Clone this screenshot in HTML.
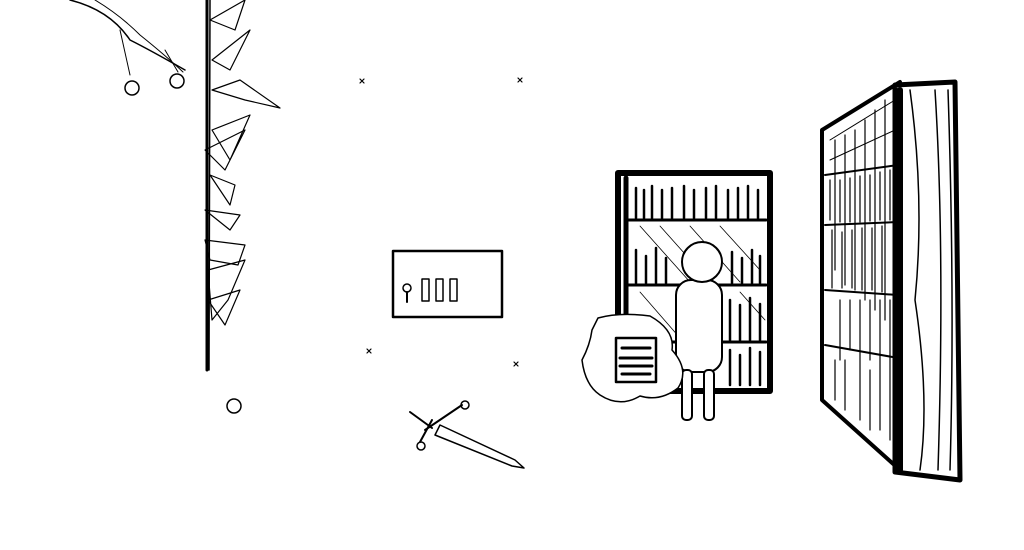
<!DOCTYPE html>
<html><head><meta charset="utf-8"><style>html,body{margin:0;padding:0;background:#fff}svg{display:block}</style></head>
<body>
<svg width="1024" height="550" viewBox="0 0 1024 550" xmlns="http://www.w3.org/2000/svg" fill="none" stroke="#000" stroke-linecap="round" stroke-linejoin="round">
<rect width="1024" height="550" fill="#fff" stroke="none"/>
<!-- branch top-left -->
<path d="M70 0 Q110 10 130 40 Q150 50 185 70" stroke-width="1.5"/>
<path d="M95 0 Q120 15 140 35 Q165 55 183 72" stroke-width="1"/>
<path d="M120 30 L130 75 M165 50 L178 72" stroke-width="1"/>
<circle cx="132" cy="88" r="7" stroke-width="1.5"/>
<circle cx="177" cy="81" r="7" stroke-width="1.5"/>
<!-- vine -->
<path d="M207 0 L207 370" stroke-width="3"/>
<path d="M210 0 L209 370" stroke-width="1.5"/>
<path d="M210 20 L245 0 L235 30 Z M212 60 L250 30 L230 70 Z M212 90 L240 80 L280 108 L245 100 Z M212 130 L250 115 L230 160 Z M205 150 L245 130 L225 170 Z M210 175 L235 185 L230 205 Z M205 210 L240 215 L230 230 Z M205 240 L245 245 L238 265 L210 260 Z M208 270 L245 260 L228 300 L212 320 Z M208 300 L240 290 L225 325 Z" stroke-width="1.2"/>
<circle cx="234" cy="406" r="7" stroke-width="1.5"/>
<!-- x marks -->
<g stroke-width="1.2"><path d="M360 79l4 4m0-4l-4 4M518 78l4 4m0-4l-4 4M367 349l4 4m0-4l-4 4M514 362l4 4m0-4l-4 4"/></g>
<!-- panel -->
<rect x="393" y="251" width="109" height="66" stroke-width="2.5"/>
<circle cx="407" cy="288" r="4" stroke-width="1.5"/><path d="M407 292 L407 302" stroke-width="2"/>
<rect x="422" y="279" width="7" height="22" stroke-width="1.5"/><rect x="436" y="279" width="7" height="22" stroke-width="1.5"/><rect x="450" y="279" width="7" height="22" stroke-width="1.5"/>
<!-- sword -->
<path d="M440 425 L515 460 L524 468 L512 466 L435 435 Z" stroke-width="1.5"/>
<path d="M420 442 L432 420 M425 430 L462 405" stroke-width="2"/>
<path d="M410 412 L432 428" stroke-width="2"/><circle cx="465" cy="405" r="4" stroke-width="1.5"/><circle cx="421" cy="446" r="4" stroke-width="1.5"/>
<!-- bookshelf 1 -->
<rect x="618" y="173" width="152" height="218" stroke-width="6"/>
<path d="M626 178 V388" stroke-width="5"/>
<g stroke-width="3"><path d="M628 220 H766 M628 285 H766 M628 342 H766"/></g>
<g stroke-width="2.5"><path d="M636 188v30M644 190v28M652 186v32M662 190v28M672 188v30M684 186v32M694 190v28M706 188v30M716 186v32M728 190v28M738 188v30M748 186v32M758 190v28M636 250v33M646 256v27M656 248v35M666 258v25M732 252v31M742 258v25M752 250v33M760 256v27M730 300v40M740 305v35M750 298v42M760 304v36M730 350v35M740 355v30M750 348v37M760 352v33"/></g>
<g stroke-width="0.8"><path d="M640 226 L690 282 M660 226 L710 282 M690 226 L740 282 M720 226 L760 270 M640 292 L680 338 M740 292 L765 320"/></g>
<!-- figure -->
<rect x="676" y="280" width="46" height="92" rx="15" fill="#fff" stroke-width="2"/>
<circle cx="702" cy="262" r="20" fill="#fff" stroke-width="2"/>
<rect x="682" y="370" width="10" height="50" rx="4" fill="#fff" stroke-width="2"/><rect x="704" y="370" width="10" height="50" rx="4" fill="#fff" stroke-width="2"/>
<!-- bubble -->
<path d="M598 318 Q620 312 650 316 Q675 330 672 350 Q690 370 678 388 Q660 402 640 396 Q620 408 600 395 Q585 385 582 360 Q590 345 592 330 Z" fill="#fff" stroke-width="1.5"/>
<rect x="616" y="338" width="40" height="44" stroke-width="2.5"/>
<path d="M622 348 H650 M620 358 H652 M620 366 H652 M622 374 H650" stroke-width="3"/>
<!-- bookshelf 2 -->
<path d="M822 130 L900 82 L900 470 L822 400 Z" stroke-width="4"/>
<g stroke-width="2"><path d="M825 175 L898 165 M825 225 L898 222 M825 290 L898 295 M825 345 L898 358"/></g>
<g stroke-width="1.2"><path d="M830 180v40M835 140v130M840 180v42M845 135v150M850 178v44M855 130v160M860 176v46M865 120v180M870 175v46M875 110v200M880 172v48M885 100v220M890 170v50M832 230v58M842 232v56M852 230v58M862 228v62M872 228v62M882 226v66M840 300v60M850 300v50M860 300v70M870 300v60M880 300v70M890 300v70M835 360v40M845 360v50M860 370v50M870 370v60M880 370v60M890 370v70"/></g>
<path d="M830 140 L895 100 M830 160 L895 130" stroke-width="1"/>
<path d="M895 85 L955 82 L960 480 L895 472 Z" fill="#fff" stroke-width="5"/>
<path d="M900 90 L900 470" stroke-width="6"/>
<path d="M910 90 Q925 200 915 300 Q930 400 920 470 M935 90 Q945 250 938 470 M948 90 Q955 300 950 470" stroke-width="1.5"/>
</svg>
</body></html>
